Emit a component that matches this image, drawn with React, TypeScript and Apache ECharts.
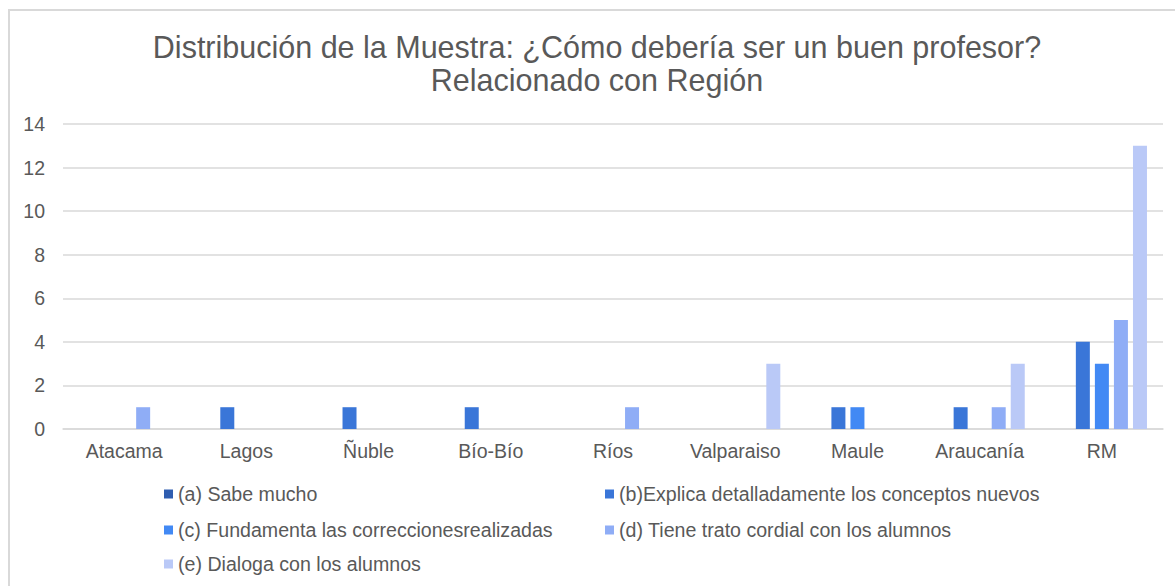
import React, { useEffect, useRef } from "react";
import * as echarts from "echarts";

const categories = ["Atacama", "Lagos", "Ñuble", "Bío-Bío", "Ríos", "Valparaiso", "Maule", "Araucanía", "RM"];
const seriesNames = [
  "(a) Sabe mucho",
  "(b)Explica detalladamente los conceptos nuevos",
  "(c) Fundamenta las correccionesrealizadas",
  "(d) Tiene trato cordial con los alumnos",
  "(e) Dialoga con los alumnos",
];
const valuesA = [null, null, null, null, null, null, null, null, null];
const valuesB = [null, 1, 1, 1, null, null, 1, 1, 4];
const valuesC = [null, null, null, null, null, null, 1, null, 3];
const valuesD = [1, null, null, null, 1, null, null, 1, 5];
const valuesE = [null, null, null, null, null, 3, null, 3, 13];
const yTicks = { min: 0, max: 14, interval: 2 };
const titleLines = ["Distribución de la Muestra: ¿Cómo debería ser un buen profesor?", "Relacionado con Región"];

const colors = ["#2F5DB0", "#3A76D8", "#4289F4", "#8FADF6", "#BAC9F7"];
const FONT = "'Liberation Sans', Arial, sans-serif";
const TEXT = "#595959";

export default function App() {
  const ref = useRef<HTMLDivElement>(null);
  useEffect(() => {
    const chart = echarts.init(ref.current!, null, { renderer: "svg" });
    const allValues = [valuesA, valuesB, valuesC, valuesD, valuesE];
    const legendPos = [
      { left: 164, top: 484 },
      { left: 605, top: 484 },
      { left: 164, top: 520 },
      { left: 605, top: 520 },
      { left: 164, top: 554 },
    ];
    chart.setOption({
      animation: false,
      textStyle: { fontFamily: FONT },
      graphic: [
        {
          type: "rect",
          shape: { x: 9, y: 10, width: 1200, height: 600 },
          style: { fill: "none", stroke: "#d9d9d9", lineWidth: 2 },
          silent: true,
        },
        {
          type: "text",
          x: 597,
          y: 47,
          style: {
            text: titleLines[0],
            fontSize: 30.5,
            fontFamily: FONT,
            fill: TEXT,
            textAlign: "center",
            textVerticalAlign: "middle",
          },
        },
        {
          type: "text",
          x: 597,
          y: 80,
          style: {
            text: titleLines[1],
            fontSize: 30.5,
            fontFamily: FONT,
            fill: TEXT,
            textAlign: "center",
            textVerticalAlign: "middle",
          },
        },
      ],
      legend: seriesNames.map((n, i) => ({
        data: [n],
        left: legendPos[i].left,
        top: legendPos[i].top,
        padding: 0,
        itemWidth: 9,
        itemHeight: 9,
        icon: "rect",
        selectedMode: false,
        textStyle: { fontSize: 19.6, color: TEXT, fontFamily: FONT },
      })),
      grid: { left: 63, right: 12, top: 124, bottom: 157, containLabel: false },
      xAxis: {
        type: "category",
        data: categories,
        axisLine: { lineStyle: { color: "#d9d9d9", width: 1.5 } },
        axisTick: { show: false },
        axisLabel: { fontSize: 19.5, color: TEXT, margin: 12, fontFamily: FONT },
      },
      yAxis: {
        type: "value",
        min: yTicks.min,
        max: yTicks.max,
        interval: yTicks.interval,
        axisLine: { show: false },
        axisTick: { show: false },
        splitLine: { lineStyle: { color: "#d9d9d9", width: 1.5 } },
        axisLabel: { fontSize: 19.5, color: TEXT, margin: 18, fontFamily: FONT },
      },
      series: seriesNames.map((n, i) => ({
        name: n,
        type: "bar",
        data: allValues[i],
        barWidth: 14,
        barGap: "36%",
        itemStyle: { color: colors[i] },
      })),
    });
    return () => chart.dispose();
  }, []);
  return <div ref={ref} style={{ position: "absolute", left: 0, top: 0, width: 1175, height: 586 }} />;
}
